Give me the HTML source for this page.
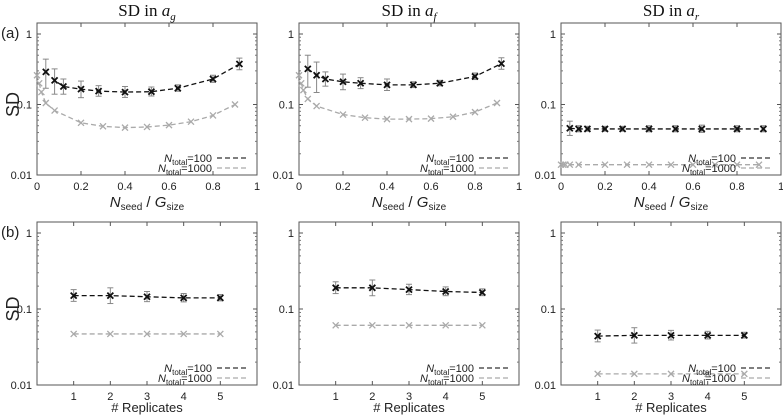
<!DOCTYPE html>
<html><head><meta charset="utf-8"><style>
body{margin:0;background:#fff;}
svg{display:block;font-family:"Liberation Sans",sans-serif;}
</style></head><body>
<svg id="fig" width="783" height="419" viewBox="0 0 783 419"></svg>
<script>
// ----- data -----
const topXBlack = [0.04,0.08,0.12,0.2,0.28,0.4,0.52,0.64,0.8,0.92];
const topXGray = [0,0.01,0.02,0.04,0.08,0.2,0.3,0.4,0.5,0.6,0.7,0.8,0.9];
const agBlack = [0.29,0.22,0.18,0.165,0.155,0.15,0.152,0.17,0.23,0.375];
const agGray = [0.26,0.2,0.15,0.105,0.082,0.055,0.049,0.047,0.048,0.051,0.057,0.07,0.1];
const afBlack = [0.32,0.26,0.23,0.21,0.2,0.19,0.19,0.2,0.25,0.38];
const afGray = [0.26,0.2,0.16,0.12,0.095,0.072,0.065,0.062,0.062,0.063,0.067,0.078,0.105];
const arBlack = [0.046,0.045,0.045,0.045,0.045,0.045,0.045,0.045,0.045,0.045];
const arGray = [0.014,0.014,0.014,0.014,0.014,0.014,0.014,0.014,0.014,0.014,0.014,0.014,0.014];
const agBlackErr = [0.15,0.1,0.05,0.05,0.03,0.03,0.025,0.02,0.03,0.08];
const afBlackErr = [0.18,0.14,0.06,0.06,0.04,0.04,0.02,0.02,0.03,0.08];
const arBlackErr = [0.012,0.005,0.004,0.004,0.004,0.005,0.005,0.006,0.005,0.005];
const repX = [1,2,3,4,5];
const repAgBlack = [0.15,0.15,0.145,0.14,0.14];
const repAgGray = [0.047,0.047,0.047,0.047,0.047];
const repAfBlack = [0.19,0.19,0.18,0.17,0.165];
const repAfGray = [0.061,0.061,0.061,0.061,0.061];
const repArBlack = [0.044,0.045,0.045,0.045,0.045];
const repArGray = [0.014,0.014,0.014,0.014,0.014];
const repErr = [0.03,0.04,0.025,0.02,0.015];
const yTicks = [1,0.1,0.01];
const yTickLabels = ["1","0.1","0.01"];
const topXTicks = [0,0.2,0.4,0.6,0.8,1];
const topXTickLabels = ["0","0.2","0.4","0.6","0.8","1"];
const repTicks = [1,2,3,4,5];

const NS="http://www.w3.org/2000/svg";
const svg=document.getElementById('fig');
function mk(tag,attrs,parent){const e=document.createElementNS(NS,tag);for(const k in attrs)e.setAttribute(k,attrs[k]);(parent||svg).appendChild(e);return e;}

function panel(name,left,top,bottom,xmin,xmax,xTicks,xLabels,series,showY){
  const g=mk('g',{});
  
  
  const W=220;
  const xs=v=>left+(v-xmin)/(xmax-xmin)*W;
  const ys=v=>bottom-(Math.log10(v)+2)/2*((bottom-top-11));
  const fr=mk('rect',{x:left,y:top,width:W,height:bottom-top,fill:'none',stroke:'#555','stroke-width':1},g);
  
  
  yTicks.forEach((t,i)=>{
    const y=ys(t);
    mk('line',{x1:left,x2:left+4,y1:y,y2:y,stroke:'#555'},g);
    mk('line',{x1:left+W-4,x2:left+W,y1:y,y2:y,stroke:'#555'},g);
    for(let m=2;m<10&&t<1;m++){const ym=ys(t*m);mk('line',{x1:left,x2:left+2,y1:ym,y2:ym,stroke:'#777'},g);mk('line',{x1:left+W-2,x2:left+W,y1:ym,y2:ym,stroke:'#777'},g);}
    const tl=mk('text',{x:left-5,y:y+4,'text-anchor':'end','font-size':11,fill:'#222'},g);
    tl.textContent=yTickLabels[i];
    
    
  });
  xTicks.forEach((t,i)=>{
    const x=xs(t);
    mk('line',{x1:x,x2:x,y1:bottom,y2:bottom-4,stroke:'#555'},g);
    mk('line',{x1:x,x2:x,y1:top,y2:top+4,stroke:'#555'},g);
    const tl=mk('text',{x:x,y:bottom+15,'text-anchor':'middle','font-size':11,fill:'#222'},g);
    tl.textContent=xLabels[i];
    
    
  });
  series.forEach(s=>{
    const pts=s.x.map((xv,i)=>xs(xv)+','+ys(s.y[i])).join(' ');
    const pl=mk('polyline',{points:pts,fill:'none',stroke:s.c,'stroke-width':1.3,'stroke-dasharray':'5,3'},g);
    
    
    s.x.forEach((xv,i)=>{
      const x=xs(xv),y=ys(s.y[i]);
      if(s.e){const e=s.e[i];const y1=ys(s.y[i]+e),y2=ys(Math.max(s.y[i]-e*0.8,0.005));
        mk('line',{x1:x,x2:x,y1:y1,y2:y2,stroke:'#888'},g);
        mk('line',{x1:x-3,x2:x+3,y1:y1,y2:y1,stroke:'#888'},g);
        mk('line',{x1:x-3,x2:x+3,y1:y2,y2:y2,stroke:'#888'},g);}
      const p=mk('path',{d:`M${x-3},${y-3}L${x+3},${y+3}M${x-3},${y+3}L${x+3},${y-3}`,stroke:s.c,'stroke-width':s.c==='#111'?1.8:1.3},g);
      
      
    });
  });
  const lg=mk('g',{},g);
  
  
  [[ '100','#333',bottom-17],['1000','#aaa',bottom-7]].forEach(([n,c,y])=>{
    const t=mk('text',{x:left+W-45,y:y+4,'text-anchor':'end','font-size':11,fill:'#222'},lg);
    t.innerHTML='<tspan font-style="italic">N</tspan><tspan font-size="8" dy="3">total</tspan><tspan dy="-3">='+n+'</tspan>';
    
    
    mk('line',{x1:left+W-40,x2:left+W-8,y1:y,y2:y,stroke:c,'stroke-width':1.3,'stroke-dasharray':'5,3'},lg);
  });
  if(showY){
    const t=mk('text',{x:0,y:0,'font-size':18,fill:'#222','text-anchor':'middle',transform:`translate(19,${ys(0.1)}) rotate(-90)`},g);
    t.textContent='SD';
    
    
  }
}
const lefts=[37,299,561];
const topSets=[[agBlack,agGray,agBlackErr],[afBlack,afGray,afBlackErr],[arBlack,arGray,arBlackErr]];
const repSets=[[repAgBlack,repAgGray],[repAfBlack,repAfGray],[repArBlack,repArGray]];
const names=['ag','af','ar'];
for(let i=0;i<3;i++){
  panel('panel-a-'+names[i],lefts[i],23,175,0,1,topXTicks,topXTickLabels,
   [{x:topXGray,y:topSets[i][1],c:'#aaa',n:'ntotal1000',e:null},{x:topXBlack,y:topSets[i][0],c:'#111',n:'ntotal100',e:topSets[i][2]}],i===0);
  panel('panel-b-'+names[i],lefts[i],222,385,0,6,repTicks,repTicks.map(String),
   [{x:repX,y:repSets[i][1],c:'#aaa',n:'ntotal1000',e:null},{x:repX,y:repSets[i][0],c:'#111',n:'ntotal100',e:repErr.map(v=>v*repSets[i][0][0]/0.15)}],i===0);
  const xt=mk('text',{x:lefts[i]+110,y:207,'text-anchor':'middle','font-size':15,fill:'#222'});
  xt.innerHTML='<tspan font-style="italic">N</tspan><tspan font-size="10" dy="3">seed</tspan><tspan dy="-3"> / </tspan><tspan font-style="italic">G</tspan><tspan font-size="10" dy="3">size</tspan>';
  
  
  const rt=mk('text',{x:lefts[i]+110,y:412,'text-anchor':'middle','font-size':13,fill:'#222'});
  rt.textContent='# Replicates';
  
  
  const tt=mk('text',{x:lefts[i]+110,y:16,'text-anchor':'middle','font-size':17,fill:'#111','font-family':'Liberation Serif,serif'});
  tt.innerHTML='SD in <tspan font-style="italic">a</tspan><tspan font-style="italic" font-size="11" dy="4">'+['g','f','r'][i]+'</tspan>';
  
  
}
const la=mk('text',{x:1,y:38,'font-size':15,fill:'#222'});la.textContent='(a)';


const lb=mk('text',{x:1,y:237,'font-size':15,fill:'#222'});lb.textContent='(b)';


</script>
</body></html>
